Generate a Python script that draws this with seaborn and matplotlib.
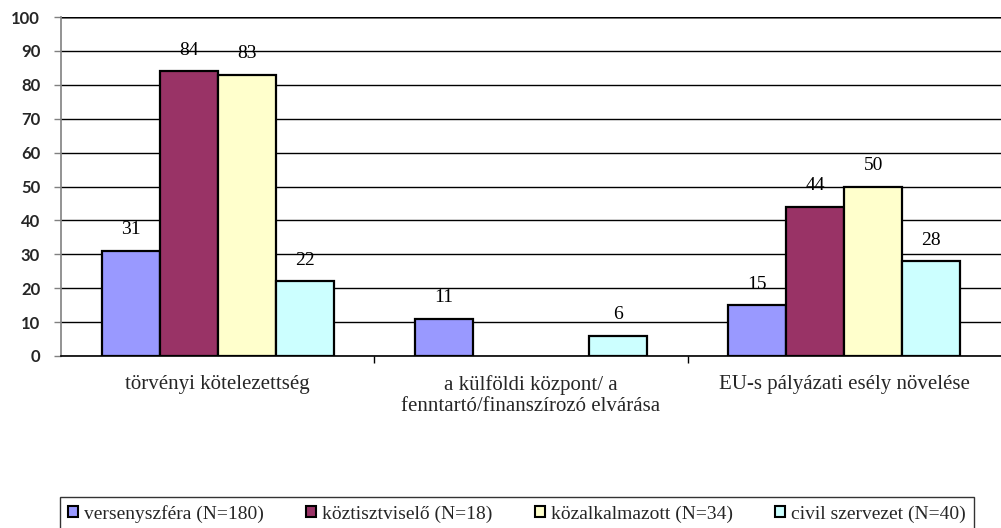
import numpy as np
import pandas as pd
import matplotlib
matplotlib.use("Agg")
import matplotlib.pyplot as plt
import seaborn as sns

categories = ["törvényi kötelezettség",
              "a külföldi központ/ a\nfenntartó/finanszírozó elvárása",
              "EU-s pályázati esély növelése"]
series = ["versenyszféra (N=180)", "köztisztviselő (N=18)",
          "közalkalmazott (N=34)", "civil szervezet (N=40)"]
versenyszfera = [31, 11, 15]
kozt = [84, np.nan, 44]
kozalk = [83, np.nan, 50]
civil = [22, 6, 28]
colors = ["#9999FF", "#993366", "#FFFFCC", "#CCFFFF"]
yticks = [0, 10, 20, 30, 40, 50, 60, 70, 80, 90, 100]

rows = []
for s, vals in zip(series, [versenyszfera, kozt, kozalk, civil]):
    for c, v in zip(categories, vals):
        rows.append({"cat": c, "series": s, "value": v})
df = pd.DataFrame(rows)

sns.set_style("white")
fig = plt.figure(figsize=(10.01, 5.28), dpi=100)
ax = fig.add_axes([61/1001, 1-356/528, 940/1001, (356-17)/528])

sns.barplot(data=df, x="cat", y="value", hue="series", order=categories,
            hue_order=series, palette=colors, edgecolor="black", linewidth=1.6,
            width=0.74, saturation=1, ax=ax, legend=True, errorbar=None)

for cont in ax.containers:
    labels = [("" if (np.isnan(b.get_height()) or b.get_height() == 0) else f"{b.get_height():.0f}")
              for b in cont]
    ax.bar_label(cont, labels=labels, padding=9, fontsize=14,
                 family="Liberation Serif", color="black")

ax.set_ylim(0, 100)
ax.set_xlim(-0.5, 2.5)
ax.set_yticks(yticks)
ax.set_yticklabels([str(t) for t in yticks], fontsize=12, fontweight="bold",
                   family="Lato")
ax.yaxis.grid(True, color="black", linewidth=1)
ax.set_axisbelow(True)
ax.tick_params(axis="y", which="major", left=True, length=5, width=1,
               color="#808080", pad=10)
ax.set_xticks([0, 1, 2])
ax.set_xticklabels(categories, fontsize=15, family="Liberation Serif",
                   linespacing=1.15)
ax.tick_params(axis="x", which="major", bottom=False, pad=10)
ax.set_xticks([0.5, 1.5], minor=True)
ax.tick_params(axis="x", which="minor", bottom=True, length=5, width=1,
               color="black")
ax.set_xlabel("")
ax.set_ylabel("")
for side in ["top", "right"]:
    ax.spines[side].set_visible(False)
ax.spines["left"].set_color("#808080")
ax.spines["left"].set_linewidth(1.2)
ax.spines["bottom"].set_color("black")
ax.spines["bottom"].set_linewidth(1.2)
ax.axhline(100, color="#808080", linewidth=2, zorder=0.5)

ax.get_legend().remove()
handles = [plt.Rectangle((0, 0), 1, 1, facecolor=c, edgecolor="black", linewidth=1.5)
           for c in colors]
leg = fig.legend(handles, series, loc="upper center", ncol=4,
                 bbox_to_anchor=(517/1001, 1-497/528),
                 prop={"family": "Liberation Serif", "size": 14},
                 frameon=True, fancybox=False, edgecolor="black",
                 handlelength=0.5, handleheight=0.5, handletextpad=0.3,
                 columnspacing=2.2, borderpad=0.4, borderaxespad=0)
leg.get_frame().set_linewidth(1.0)

fig.savefig("out.png", dpi=100)
